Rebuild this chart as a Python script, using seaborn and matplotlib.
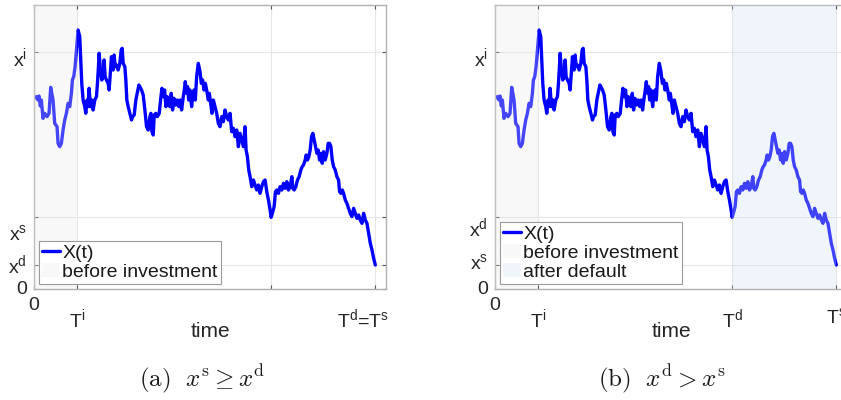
import numpy as np
import pandas as pd
import matplotlib
matplotlib.use("Agg")
import matplotlib.pyplot as plt
import matplotlib.transforms as mtransforms
from matplotlib.lines import Line2D
from matplotlib.patches import Patch
import seaborn as sns

# Sample path of the state process X(t)
time = [0, 7, 12, 15, 19, 22, 27, 32, 39, 45, 50, 57, 62, 69, 72, 77, 82, 87, 92, 97,
        102, 107, 112, 115, 119, 123, 127, 132, 137, 140, 143, 147, 152, 155, 159, 162,
        165, 169, 173, 177, 182, 187, 190, 193, 195, 199, 203, 207, 210, 213, 217, 222,
        225, 229, 232, 234, 237, 240, 243, 247, 252, 257, 261, 264, 267, 272, 275, 278,
        282, 287, 292, 295, 300, 305, 309, 314, 317, 322, 327, 332, 337, 342, 347, 350,
        353, 357, 360, 365, 369, 375, 379, 383, 387, 391, 395, 399, 403, 407, 411, 415,
        419, 424, 429, 434, 438, 442, 447, 450, 453, 457, 460, 463, 467, 472, 475, 479,
        483, 487, 492, 497, 501, 505, 509, 513, 517, 522, 525, 529, 533, 537, 542, 547,
        552, 557, 562, 567, 572, 577, 582, 587, 592, 597, 602, 607, 612, 617, 622, 627,
        632, 635, 639, 643, 647, 652, 657, 662, 667, 672, 677, 682, 687, 692, 697, 702,
        707, 710, 715, 719, 723, 727, 732, 737, 742, 747, 752, 757, 762, 767, 772, 775,
        779, 784, 789, 794, 799, 803, 807, 812, 815, 819, 823, 827, 831, 835, 839, 843,
        847, 851, 855, 859, 863, 867, 872, 877, 881, 885, 889, 893, 897, 902, 907, 912,
        915, 919, 923, 927, 932, 937, 942, 947, 952, 957, 962, 967, 972, 977, 982, 987,
        992, 997, 1002, 1007, 1012, 1017, 1022]
value = [57.2, 57.7, 56.7, 57.9, 54.9, 56.7, 51.2, 52.7, 51.7, 52.7, 60.5, 56.7, 49.7, 48.7,
         43.7, 42.7, 43.7, 47.7, 50.7, 52.7, 55.7, 54.7, 58.7, 62.7, 63.7, 66.7, 71.7, 77.7,
         75.7, 68.7, 61.7, 56.7, 54.7, 52.7, 56.7, 54.7, 60.2, 54.7, 56.7, 53.7, 56.7, 57.7,
         61.7, 66.7, 70.7, 65.7, 62.7, 63.7, 68.7, 63.7, 62.7, 61.7, 59.7, 65.7, 69.7, 66.7,
         65.7, 70.2, 66.7, 67.2, 65.7, 67.7, 71.7, 72.2, 67.7, 66.7, 62.7, 56.7, 54.7, 52.7,
         50.7, 51.7, 52.2, 56.7, 58.7, 61.2, 60.7, 59.7, 58.2, 53.7, 48.7, 47.7, 51.7, 52.7,
         47.2, 46.2, 52.2, 52.7, 51.7, 52.7, 56.7, 60.2, 57.7, 59.7, 54.7, 57.7, 55.7, 54.7,
         58.7, 53.7, 57.2, 55.2, 56.7, 54.7, 56.7, 53.7, 57.7, 59.7, 62.2, 58.7, 60.7, 56.7,
         59.7, 54.7, 57.7, 59.7, 56.7, 63.7, 67.7, 65.2, 61.7, 62.7, 59.7, 61.7, 59.7, 56.7,
         58.7, 55.7, 52.7, 56.7, 54.7, 52.7, 49.7, 48.7, 51.7, 50.2, 53.7, 51.7, 50.7, 52.7,
         47.2, 48.2, 45.7, 47.7, 42.7, 46.7, 44.7, 42.7, 48.7, 41.7, 39.7, 35.7, 33.7, 30.7,
         32.7, 31.2, 29.7, 31.2, 28.7, 30.7, 32.2, 32.7, 29.2, 26.7, 23.7, 21.5, 23.2, 24.7,
         29.2, 29.7, 28.7, 30.7, 29.7, 31.7, 30.2, 32.2, 29.7, 30.7, 33.7, 30.2, 29.7, 30.7,
         32.7, 33.7, 35.7, 36.7, 37.2, 38.7, 40.2, 38.7, 39.7, 41.7, 45.7, 46.7, 44.7, 42.7,
         40.7, 41.7, 38.7, 40.7, 37.7, 41.2, 38.7, 40.7, 43.7, 43.7, 42.7, 38.7, 36.7, 35.7,
         33.7, 32.7, 29.2, 28.7, 29.7, 28.7, 26.7, 25.7, 24.2, 22.7, 21.7, 24.2, 22.7, 21.2,
         22.2, 20.7, 19.7, 22.7, 20.7, 19.7, 16.7, 13.7, 11.7, 9.2, 7.2]

# Key times and levels
t_invest = 130
t_mid = 710
t_end = 1022
t_max = 1054
level_low = 7.2
level_mid = 21.5
level_high = 71.0
y_max = 85.2

xticks = [0, t_invest, t_mid, t_end]
yticks = [0, level_low, level_mid, level_high]
xlabels_a = ["0", r"T$^{\mathregular{i}}$", "", r"T$^{\mathregular{d}}$=T$^{\mathregular{s}}$"]
xlabels_b = ["0", r"T$^{\mathregular{i}}$", r"T$^{\mathregular{d}}$", r"T$^{\mathregular{s}}$"]
ylabels_a = ["0", r"x$^{\mathregular{d}}$", r"x$^{\mathregular{s}}$", r"x$^{\mathregular{i}}$"]
ylabels_b = ["0", r"x$^{\mathregular{s}}$", r"x$^{\mathregular{d}}$", r"x$^{\mathregular{i}}$"]
captions = [r"$\mathrm{(a)}\ \ x^{\mathrm{s}} \geq x^{\mathrm{d}}$",
            r"$\mathrm{(b)}\ \ x^{\mathrm{d}} > x^{\mathrm{s}}$"]
legend_a = ["X(t)", "before investment"]
legend_b = ["X(t)", "before investment", "after default"]

df = pd.DataFrame({"time": time, "X": value})

sns.set_theme(style="white")
plt.rcParams["font.family"] = ["Liberation Sans", "DejaVu Sans"]
plt.rcParams["mathtext.fontset"] = "custom"
plt.rcParams["mathtext.rm"] = "Liberation Sans"
plt.rcParams["mathtext.it"] = "Liberation Sans:italic"

LINE = "#0000ff"
PRE = "#e8e8e8"
POST = "#d0def5"
SHADE_ALPHA = 0.3

fig = plt.figure(figsize=(8.41, 4.0), dpi=100)
W, H = 841.0, 400.0


def px_shift(dx, dy):
    # offset in pixels (dy positive = downward)
    return mtransforms.ScaledTranslation(dx / 100.0, -dy / 100.0, fig.dpi_scale_trans)


def panel(left_px, xlabels, ylabels, ylab_shift, xlab_shift, with_default, leg_labels, caption, cap_x):
    ax = fig.add_axes([left_px / W, 1 - 289 / H, 352 / W, 284 / H])
    sns.lineplot(data=df, x="time", y="X", ax=ax, color=LINE, linewidth=2.4,
                 sort=False, estimator=None, legend=False, zorder=2)
    ax.axvspan(0, t_invest, color=PRE, alpha=SHADE_ALPHA, lw=0, zorder=3)
    if with_default:
        ax.axvspan(t_mid, t_end, color=POST, alpha=SHADE_ALPHA, lw=0, zorder=3)

    ax.set_xlim(0, t_max)
    ax.set_ylim(0, y_max)
    ax.set_xticks(xticks)
    ax.set_xticklabels(xlabels)
    ax.set_yticks(yticks)
    ax.set_yticklabels(ylabels)
    ax.set_xlabel("")
    ax.set_ylabel("")
    ax.grid(True, color="#e6e6e6", linewidth=0.8)
    ax.set_axisbelow(True)
    for sp in ax.spines.values():
        sp.set_visible(True)
        sp.set_color("#b0b0b0")
        sp.set_linewidth(1.0)
    ax.tick_params(direction="in", length=3, width=0.8, color="#555555",
                   bottom=True, left=True, top=True, right=True,
                   labelsize=14, labelcolor="#262626")
    ax.tick_params(axis="x", pad=13)
    ax.tick_params(axis="y", pad=5)

    for lab, dy in zip(ax.get_yticklabels(), ylab_shift):
        lab.set_va("center")
        lab.set_transform(lab.get_transform() + px_shift(0, dy))
    for lab, (dx, dy) in zip(ax.get_xticklabels(), xlab_shift):
        lab.set_transform(lab.get_transform() + px_shift(dx, dy))

    ax.text(0.5, -0.169, "time", transform=ax.transAxes, ha="center", va="baseline",
            fontsize=15, color="#262626")

    handles = [Line2D([], [], color=LINE, lw=2.4),
               Patch(facecolor=PRE, alpha=SHADE_ALPHA, edgecolor="none")]
    if with_default:
        handles.append(Patch(facecolor=POST, alpha=SHADE_ALPHA, edgecolor="none"))
    leg = ax.legend(handles, leg_labels, loc="lower left", fontsize=14, frameon=True,
                    fancybox=False, framealpha=1.0, facecolor="white", edgecolor="#9a9a9a",
                    borderpad=0.15, labelspacing=0.08, handlelength=0.95,
                    handletextpad=0.1, borderaxespad=0.26)
    leg.get_frame().set_linewidth(0.8)
    for t in leg.get_texts():
        t.set_color("#1a1a1a")

    fig.text(cap_x / W, 1 - 386 / H, caption, ha="center", va="baseline",
             fontsize=18, math_fontfamily="cm", color="#1a1a1a")
    return ax


panel(34, xlabels_a, ylabels_a, [1, 0, 17, 5.5],
      [(0, -10), (0, 0), (0, 0), (-12, 0)], False, legend_a, captions[0], 202)
panel(495, xlabels_b, ylabels_b, [1, -2, 11, 5.5],
      [(0, -10), (0, 0), (0, 0), (0, 0)], True, legend_b, captions[1], 662)

fig.savefig("out.png", dpi=100)
